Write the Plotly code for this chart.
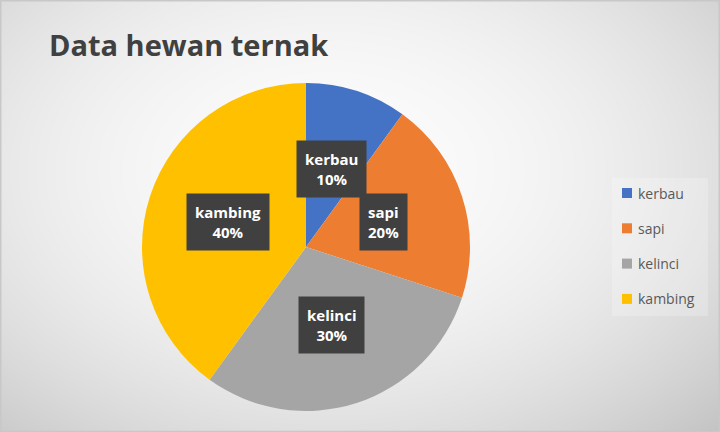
import base64, zlib, struct, math
import numpy as np
import plotly.graph_objects as go

# ---- data ----
categories = ["kerbau", "sapi", "kelinci", "kambing"]
values = [10, 20, 30, 40]
colors = ["#4472C4", "#ED7D31", "#A5A5A5", "#FFC000"]
title_text = "Data hewan ternak"

W, H = 720, 432

# ---- background radial gradient image ----
def make_png(arr):
    h, w, _ = arr.shape
    raw = b"".join(b"\x00" + arr[i].tobytes() for i in range(h))
    def chunk(t, d):
        c = struct.pack(">I", len(d)) + t + d
        return c + struct.pack(">I", zlib.crc32(t + d) & 0xffffffff)
    return (b"\x89PNG\r\n\x1a\n" + chunk(b"IHDR", struct.pack(">IIBBBBB", w, h, 8, 2, 0, 0, 0))
            + chunk(b"IDAT", zlib.compress(raw, 9)) + chunk(b"IEND", b""))

yy, xx = np.mgrid[0:H, 0:W].astype(float)
d2 = ((xx - 330) / 540) ** 2 + ((yy - 170) / 360) ** 2
v = np.clip(252 - 54 * d2, 194, 255).astype(np.uint8)
img = np.stack([v, v, v], axis=-1)
bg_src = "data:image/png;base64," + base64.b64encode(make_png(img)).decode()

# ---- pie geometry ----
cx, cy, R = 306, 247, 164  # pixels (from top)
dom_x = [(cx - R) / W, (cx + R) / W]
dom_y = [(H - cy - R) / H, (H - cy + R) / H]

fig = go.Figure()
fig.add_trace(go.Pie(
    labels=categories, values=values, sort=False, direction="clockwise", rotation=0,
    marker=dict(colors=colors, line=dict(width=0)),
    textinfo="none", hoverinfo="label+percent", showlegend=False,
    domain=dict(x=dom_x, y=dom_y),
))

annotations = []
shapes = []
total = sum(values)
cum = 0
for lab, val in zip(categories, values):
    mid = (cum + val / 2) / total * 2 * math.pi
    cum += val
    r = 0.5 * R
    px = cx + r * math.sin(mid)
    py = cy - r * math.cos(mid)
    ax, ay = px / W, 1 - py / H
    txt = f"<b>{lab}<br>{round(val / total * 100)}%</b>"
    annotations.append(dict(x=ax, y=ay, xref="paper", yref="paper", text=txt, showarrow=False,
                            xanchor="center", yanchor="middle",
                            font=dict(family="Open Sans", size=15, color="white"),
                            bgcolor="#404040", borderpad=8, align="center"))

# title
annotations.append(dict(x=47 / W, y=1 - 45 / H, xref="paper", yref="paper", xanchor="left",
                        yanchor="middle", text="<b>" + title_text + "</b>", showarrow=False,
                        font=dict(family="Open Sans", size=29, color="#404040")))

# manual legend
shapes.append(dict(type="rect", xref="paper", yref="paper", x0=612 / W, x1=708 / W,
                   y0=1 - 316 / H, y1=1 - 178 / H, line=dict(width=0),
                   fillcolor="rgba(255,255,255,0.22)", layer="below"))
leg_y0, leg_dy = 193, 35.3
for i, (lab, col) in enumerate(zip(categories, colors)):
    yc = leg_y0 + i * leg_dy
    shapes.append(dict(type="rect", xref="paper", yref="paper", x0=622 / W, x1=632 / W,
                       y0=1 - (yc + 5) / H, y1=1 - (yc - 5) / H, line=dict(width=0), fillcolor=col))
    annotations.append(dict(x=636 / W, y=1 - yc / H, xref="paper", yref="paper", xanchor="left",
                            yanchor="middle", text=lab, showarrow=False,
                            font=dict(family="Open Sans", size=14, color="#595959")))

# outer border
shapes.append(dict(type="rect", xref="paper", yref="paper", x0=0.001, x1=0.999, y0=0.001, y1=0.998,
                   line=dict(color="#c8c8c8", width=1.5), fillcolor="rgba(0,0,0,0)"))

fig.update_layout(
    width=W, height=H, margin=dict(l=0, r=0, t=0, b=0),
    paper_bgcolor="#e6e6e6", plot_bgcolor="rgba(0,0,0,0)",
    images=[dict(source=bg_src, xref="paper", yref="paper", x=0, y=1, sizex=1, sizey=1,
                 sizing="stretch", layer="below", xanchor="left", yanchor="top")],
    annotations=annotations, shapes=shapes, showlegend=False,
)

fig.write_html("out.html")
